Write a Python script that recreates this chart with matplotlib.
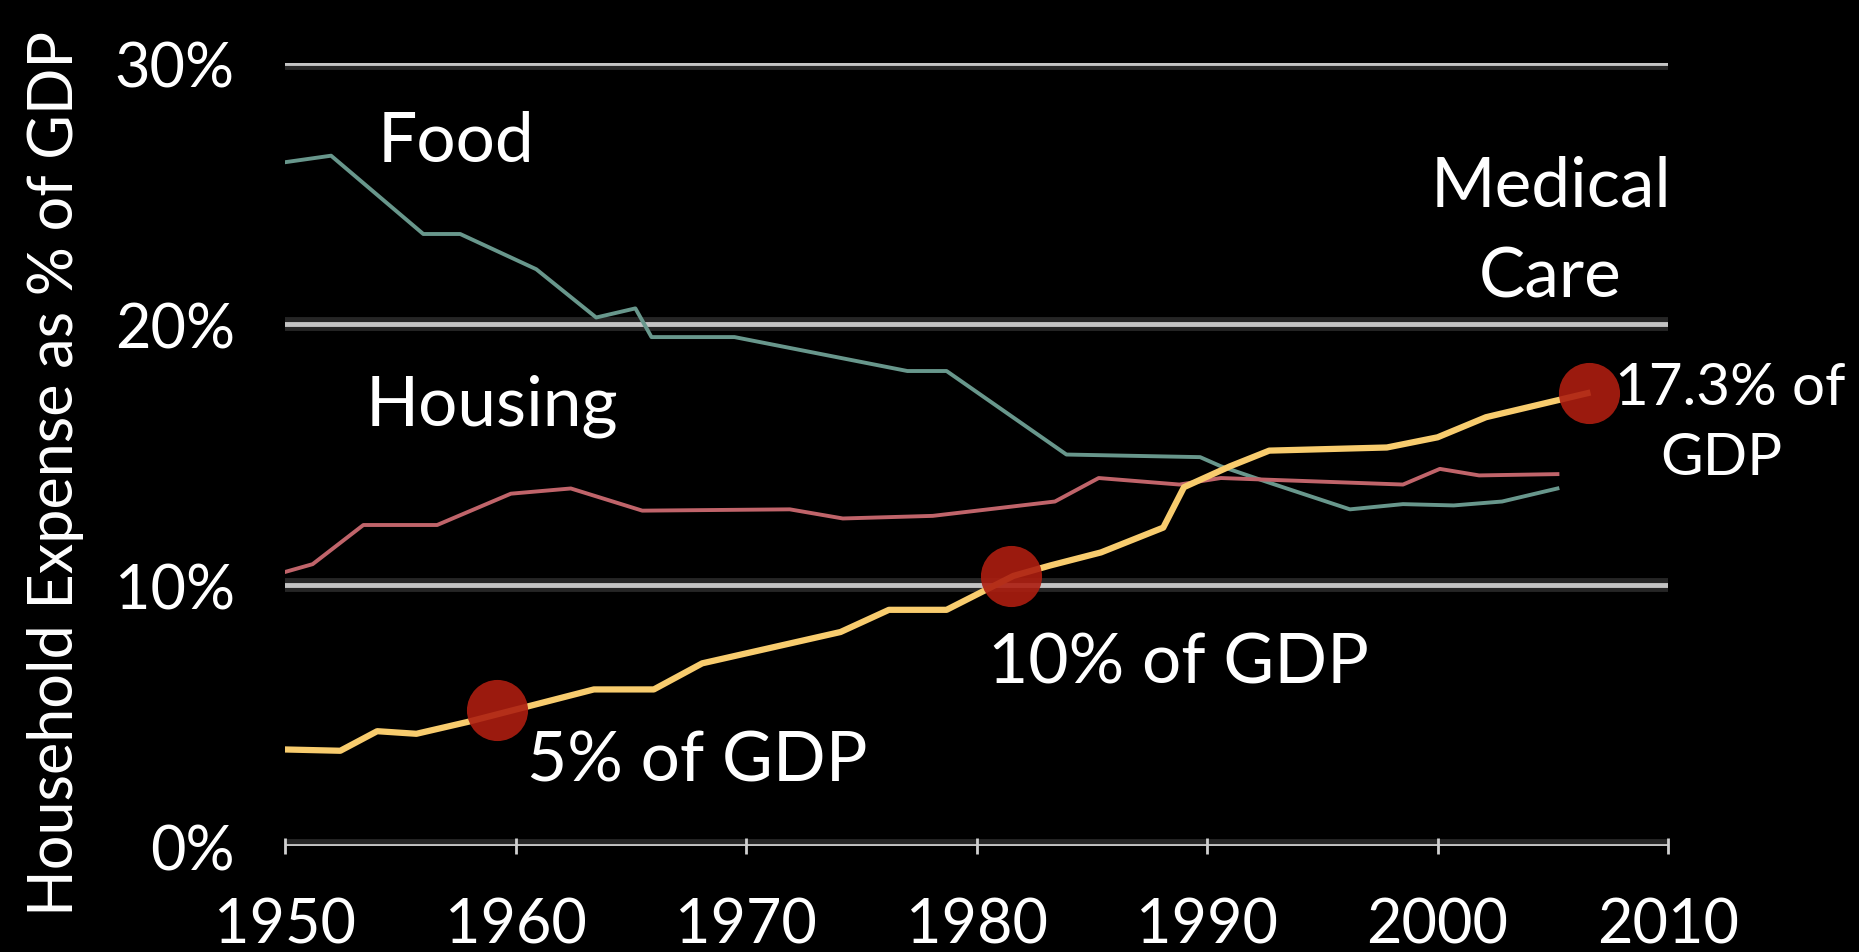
import matplotlib
matplotlib.use("Agg")
import matplotlib.pyplot as plt
import matplotlib.patheffects as pe

plt.rcParams['font.family'] = ['Lato', 'DejaVu Sans']

# values (year, % of GDP)
food_years = [1950, 1952, 1956, 1957.6, 1960.9, 1963.5, 1965.2, 1965.9, 1969.5, 1977, 1978.7,
              1983.9, 1989.7, 1990.6, 1992.6, 1996.2, 1998.5, 2000.7, 2002.8, 2005.2]
food_pct = [26.2, 26.45, 23.45, 23.45, 22.1, 20.25, 20.6, 19.5, 19.5, 18.2, 18.2,
            15.0, 14.9, 14.55, 13.95, 12.9, 13.1, 13.05, 13.2, 13.7]

housing_years = [1950, 1951.2, 1953.4, 1956.6, 1959.8, 1962.4, 1965.5, 1971.9, 1974.2, 1978.1,
                 1983.4, 1985.3, 1988.8, 1990.6, 1998.5, 2000.1, 2001.8, 2005.2]
housing_pct = [10.5, 10.8, 12.3, 12.3, 13.5, 13.7, 12.85, 12.9, 12.55, 12.65,
               13.2, 14.1, 13.85, 14.1, 13.85, 14.45, 14.2, 14.25]

medical_years = [1950, 1952.4, 1954, 1955.7, 1957.9, 1963.4, 1966, 1968.1, 1974.1, 1976.2, 1978.7,
                 1981.6, 1983.2, 1985.4, 1988.1, 1989, 1991, 1992.7, 1997.8, 2000, 2002.1, 2006.5]
medical_pct = [3.7, 3.65, 4.4, 4.3, 4.75, 6.0, 6.0, 7.0, 8.2, 9.05, 9.05,
               10.35, 10.75, 11.25, 12.2, 13.75, 14.55, 15.15, 15.27, 15.66, 16.43, 17.35]

dot_years = [1959.2, 1981.5, 2006.55]
dot_pct = [5.2, 10.35, 17.35]

yticks = [0, 10, 20, 30]
ytick_labels = ['0%', '10%', '20%', '30%']
xticks = [1950, 1960, 1970, 1980, 1990, 2000, 2010]

fig = plt.figure(figsize=(18.59, 9.53), dpi=100, facecolor='black')
ax = fig.add_axes([0.1533, 0.1112, 0.744, 0.8216], facecolor='black')

grid_fx = [pe.Stroke(linewidth=10, foreground='#262626'), pe.Normal()]
for y in yticks:
    ax.axhline(y, color='#c4c4c4', lw=3.5, zorder=1, path_effects=grid_fx)

ax.plot(food_years, food_pct, color='#68978c', lw=2.8, zorder=3)
ax.plot(housing_years, housing_pct, color='#c0646a', lw=2.8, zorder=3)
ax.plot(medical_years, medical_pct, color='#f8cc6e', lw=4.5, zorder=4)
ax.plot(dot_years, dot_pct, 'o', ms=44, color='#ad1e10', alpha=0.9,
        markeredgewidth=0, zorder=5, clip_on=False)

ax.set_xlim(1950, 2010)
ax.set_ylim(0, 30)
for s in ax.spines.values():
    s.set_visible(False)

ax.set_yticks(yticks)
ax.set_yticklabels(ytick_labels)
ax.set_xticks(xticks)
ax.tick_params(axis='y', length=0, pad=36, labelsize=44, labelcolor='white')
ax.tick_params(axis='x', length=12, width=2, direction='inout', color='#d0d0d0',
               pad=30, labelsize=44, labelcolor='white')

fig.text(0.030, 0.503, 'Household Expense as % of GDP', rotation=90,
         ha='center', va='center', color='white', fontsize=44)

txt = dict(color='white', fontsize=50, va='center')
ax.text(1954.0, 27.0, 'Food', ha='left', **txt)
ax.text(1953.5, 16.9, 'Housing', ha='left', **txt)
ax.text(2004.9, 25.3, 'Medical', ha='center', **txt)
ax.text(2004.9, 21.8, 'Care', ha='center', **txt)
ax.text(1980.5, 7.0, '10% of GDP', ha='left', **txt)
ax.text(1960.5, 3.25, '5% of GDP', ha='left', **txt)
side = dict(color='white', fontsize=42, va='center', clip_on=False)
ax.text(2007.7, 17.55, '17.3% of', ha='left', **side)
ax.text(2012.3, 14.87, 'GDP', ha='center', **side)

fig.savefig('out.png', dpi=100, facecolor='black')
